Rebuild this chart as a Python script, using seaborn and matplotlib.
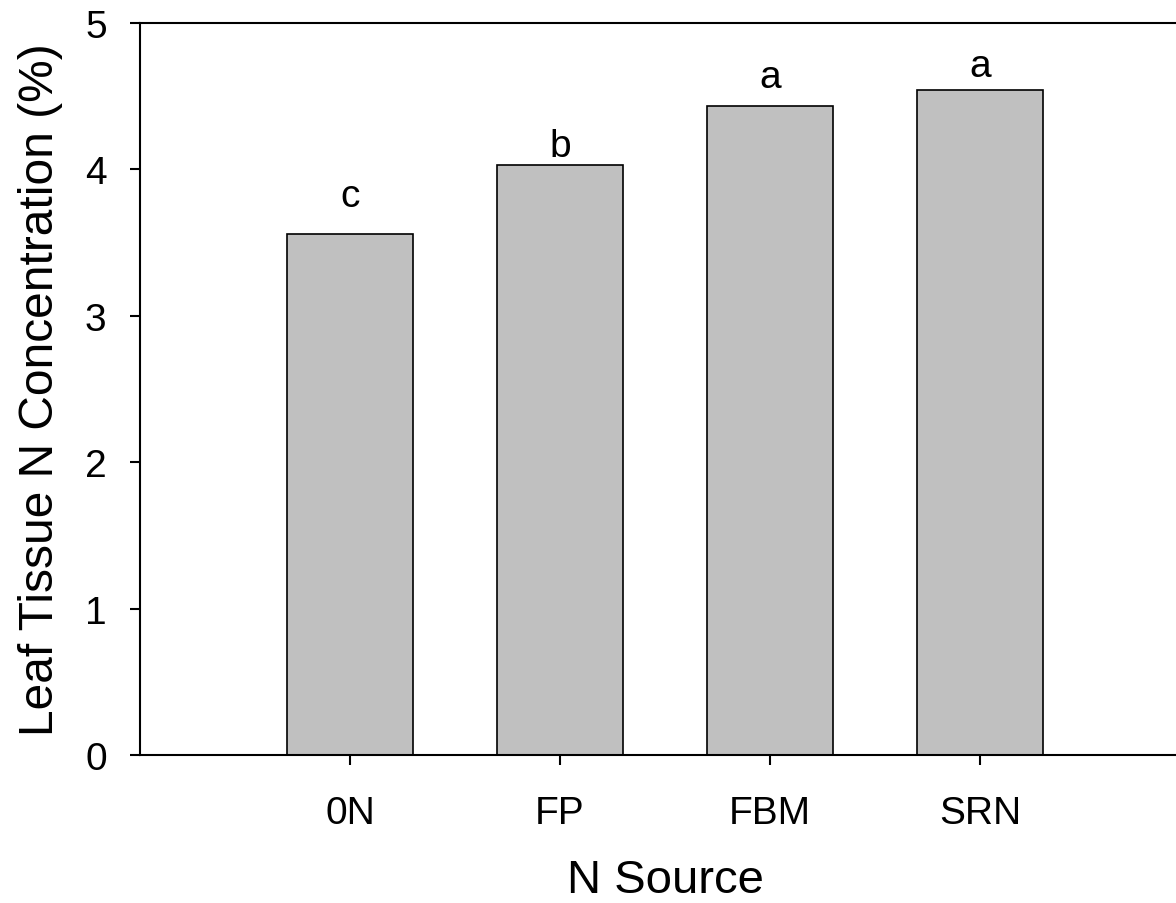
import pandas as pd
import numpy as np
import matplotlib.pyplot as plt
import seaborn as sns

# DATA
sources = ["0N", "FP", "FBM", "SRN"]
leaf_n = [3.56, 4.03, 4.43, 4.54]
letters = ["c", "b", "a", "a"]
letter_y = [3.75, 4.09, 4.56, 4.64]

df = pd.DataFrame({"N Source": sources, "Leaf N": leaf_n})

sns.set_style("ticks")
plt.rcParams['font.family'] = ['Liberation Sans', 'DejaVu Sans']
plt.rcParams['text.color'] = 'black'
plt.rcParams['axes.labelcolor'] = 'black'
plt.rcParams['xtick.color'] = 'black'
plt.rcParams['ytick.color'] = 'black'

fig = plt.figure(figsize=(11.76, 9.04), dpi=100)
ax = fig.add_axes([140 / 1176, 1 - 756 / 904, (1190 - 140) / 1176, (756 - 24) / 904])

sns.barplot(data=df, x="N Source", y="Leaf N", color="#c0c0c0", saturation=1,
            edgecolor="black", linewidth=1.2, width=0.6, ax=ax)

for i, (lab, ly) in enumerate(zip(letters, letter_y)):
    ax.text(i, ly, lab, ha="center", va="baseline", fontsize=28, color="black")

ax.set_xlim(-1, 4)
ax.set_ylim(0, 5)
ax.set_yticks([0, 1, 2, 3, 4, 5])

ax.set_xlabel("N Source", fontsize=34, labelpad=19)
ax.set_ylabel("Leaf Tissue N Concentration (%)", fontsize=34.5, labelpad=16)

ax.tick_params(axis="both", labelsize=28, length=7, width=1.5, direction="out")
ax.tick_params(axis="x", pad=22)
ax.tick_params(axis="y", pad=17)

for side in ["left", "bottom", "top", "right"]:
    ax.spines[side].set_visible(True)
    ax.spines[side].set_linewidth(1.5)
    ax.spines[side].set_color("black")

plt.savefig("out.png", dpi=100)
